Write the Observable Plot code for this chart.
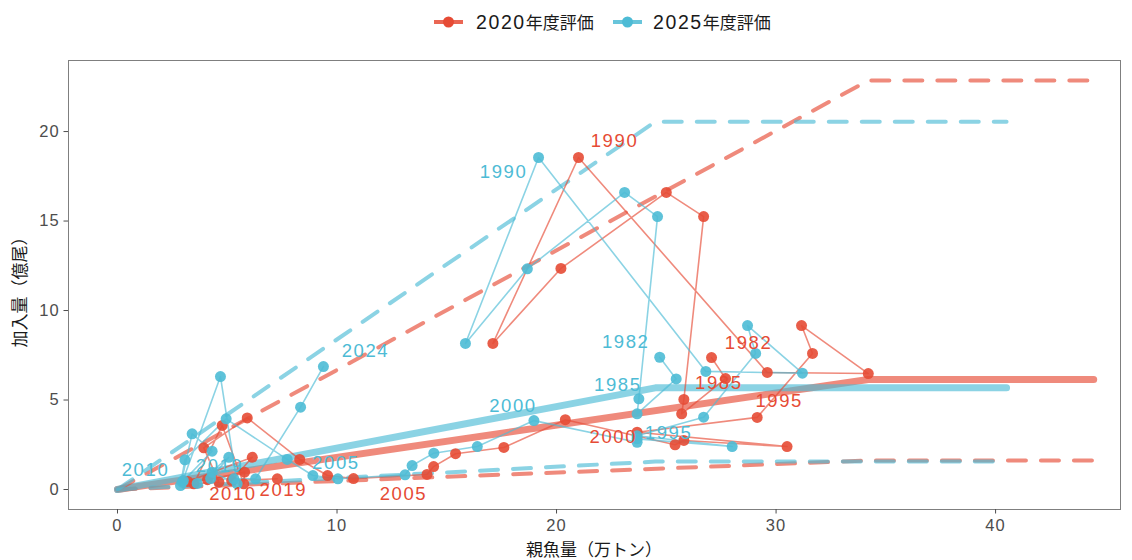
<!DOCTYPE html>
<html><head><meta charset="utf-8">
<script src="https://cdn.jsdelivr.net/npm/d3@7"></script>
<script src="https://cdn.jsdelivr.net/npm/@observablehq/plot@0.6"></script>
<style>
body{margin:0;background:#fff;}
#wrap{position:relative;width:1132px;height:560px;overflow:hidden;font-family:"Liberation Sans","Noto Sans CJK JP",sans-serif;}
#chart{position:absolute;top:48px;left:0;}
#overlay{position:absolute;top:0;left:0;pointer-events:none;}
#chart svg text{font-family:"Liberation Sans","Noto Sans CJK JP",sans-serif;}
#chart g[aria-label="text"] text{letter-spacing:1.6px;}
#chart g[aria-label$="tick label"] text{letter-spacing:1.2px;}
</style></head>
<body>
<div id="wrap">
<div id="chart"></div>
<svg id="overlay" width="1132" height="560"></svg>
</div>
<script>
// ---- data ----
const years2020 = [1982,1983,1984,1985,1986,1987,1988,1989,1990,1991,1992,1993,1994,1995,1996,1997,1998,1999,2000,2001,2002,2003,2004,2005,2006,2007,2008,2009,2010,2011,2012,2013,2014,2015,2016,2017,2018,2019];
const ssb2020 = [27.06,27.7,25.7,25.8,26.7,25.0,20.2,17.1,21.0,29.6,34.2,31.16,31.66,29.14,23.67,30.5,25.8,25.4,20.4,17.6,15.4,14.4,14.1,10.75,9.57,8.3,5.91,3.93,4.62,3.48,4.77,5.75,5.79,4.1,3.2,6.14,5.2,7.28];
const rec2020 = [7.37,6.2,4.23,5.03,15.25,16.6,12.35,8.16,18.55,6.54,6.48,9.16,7.6,4.03,3.2,2.4,2.74,2.5,3.9,2.35,2.0,1.28,0.84,0.61,0.78,1.68,4.0,2.33,0.41,0.32,3.58,0.32,0.97,0.55,0.45,1.8,0.5,0.6];

const years2025 = [1982,1983,1984,1985,1986,1987,1988,1989,1990,1991,1992,1993,1994,1995,1996,1997,1998,1999,2000,2001,2002,2003,2004,2005,2006,2007,2008,2009,2010,2011,2012,2013,2014,2015,2016,2017,2018,2019,2020,2021,2022,2023,2024];
const ssb2025 = [24.7,25.45,23.67,23.75,24.6,23.1,18.67,15.85,19.18,26.8,31.2,28.7,29.07,26.7,23.67,28.0,23.67,23.67,18.97,16.39,14.41,13.42,13.1,10.04,8.9,7.73,4.95,3.07,2.87,3.4,4.31,2.95,4.69,5.45,4.31,3.63,5.07,4.24,3.0,5.3,6.29,8.34,9.38];
const rec2025 = [7.39,6.18,4.23,5.07,15.25,16.6,12.33,8.16,18.55,6.6,6.5,9.16,7.6,4.04,3.0,2.4,2.83,2.64,3.85,2.4,2.03,1.34,0.82,0.6,0.78,1.68,3.95,1.66,0.22,3.11,2.14,0.41,6.31,0.32,0.97,0.34,1.8,0.61,0.5,0.6,0.6,4.6,6.87];

// hockey-stick fit and its lower/upper bands (SSB grid, recruitment)
const hsSsb2020 = [0, 34.2, 44.47];
const hsFit2020 = [0, 6.15, 6.15];
const hsUpper2020 = [0, 22.85, 22.85];
const hsLower2020 = [0, 1.62, 1.62];
const hsSsb2025 = [0, 24.5, 40.5];
const hsFit2025 = [0, 5.68, 5.68];
const hsUpper2025 = [0, 20.55, 20.55];
const hsLower2025 = [0, 1.56, 1.56];

const labelYears2020 = [1982,1985,1990,1995,2000,2005,2010,2019];
const labelYears2025 = [1982,1985,1990,1995,2000,2005,2010,2019,2024];

const seriesNames = ["2020年度評価","2025年度評価"];
const xTicks = [0,10,20,30,40];
const yTicks = [0,5,10,15,20];

// ---- styles ----
const RED = "#E64B35", BLUE = "#4DBBD5";
const labelOffsets2020 = {1982:[37,-15],1985:[35,-16],1990:[36,-16],1995:[22,-16],2000:[48,17],2005:[50,15],2010:[14,12],2019:[6,11]};
const labelOffsets2025 = {1982:[-34,-15],1985:[-21,-14],1990:[-35,15],1995:[-35,16],2000:[-21,-15],2005:[-2,-16],2010:[-35,-15],2019:[9,-13],2024:[42,-15]};

const pts = (ys, xs, rs) => ys.map((yr,i)=>({year:yr, ssb:xs[i], rec:rs[i]}));
const p2020 = pts(years2020, ssb2020, rec2020);
const p2025 = pts(years2025, ssb2025, rec2025);
const curve = (xs, ys) => xs.map((v,i)=>({ssb:v, rec:ys[i]}));

const marks = [
  Plot.frame({stroke:"#7f7f7f", strokeWidth:1}),
  Plot.axisX({ticks:xTicks, tickSize:4.5, tickPadding:5, fontSize:16.5, label:null}),
  Plot.axisY({ticks:yTicks, tickSize:4.5, tickPadding:4, fontSize:16.5, label:null}),
  Plot.line(curve(hsSsb2020, hsFit2020), {x:"ssb", y:"rec", stroke:RED, strokeWidth:7, strokeOpacity:0.65}),
  Plot.line(curve(hsSsb2025, hsFit2025), {x:"ssb", y:"rec", stroke:BLUE, strokeWidth:7, strokeOpacity:0.65}),
  Plot.line(curve(hsSsb2020, hsUpper2020), {x:"ssb", y:"rec", stroke:RED, strokeWidth:4, strokeOpacity:0.65, strokeDasharray:"18,15"}),
  Plot.line(curve(hsSsb2020, hsLower2020), {x:"ssb", y:"rec", stroke:RED, strokeWidth:4, strokeOpacity:0.65, strokeDasharray:"18,15"}),
  Plot.line(curve(hsSsb2025, hsUpper2025), {x:"ssb", y:"rec", stroke:BLUE, strokeWidth:4, strokeOpacity:0.65, strokeDasharray:"18,15"}),
  Plot.line(curve(hsSsb2025, hsLower2025), {x:"ssb", y:"rec", stroke:BLUE, strokeWidth:4, strokeOpacity:0.65, strokeDasharray:"18,15"}),
  Plot.line(p2020, {x:"ssb", y:"rec", stroke:RED, strokeWidth:1.6, strokeOpacity:0.65}),
  Plot.line(p2025, {x:"ssb", y:"rec", stroke:BLUE, strokeWidth:1.6, strokeOpacity:0.65}),
  Plot.dot(p2020, {x:"ssb", y:"rec", r:5.5, fill:RED, fillOpacity:0.9, stroke:null}),
  Plot.dot(p2025, {x:"ssb", y:"rec", r:5.5, fill:BLUE, fillOpacity:0.9, stroke:null})
];
labelYears2020.forEach(yr => {
  const d = p2020.filter(p => p.year === yr);
  const [dx, dy] = labelOffsets2020[yr];
  marks.push(Plot.text(d, {x:"ssb", y:"rec", text:p=>String(p.year), dx, dy, fill:RED, fontSize:18.5}));
});
labelYears2025.forEach(yr => {
  const d = p2025.filter(p => p.year === yr);
  const [dx, dy] = labelOffsets2025[yr];
  marks.push(Plot.text(d, {x:"ssb", y:"rec", text:p=>String(p.year), dx, dy, fill:BLUE, fontSize:18.5}));
});

const chart = Plot.plot({
  width:1132, height:512,
  marginLeft:68, marginRight:12, marginTop:12, marginBottom:51,
  x:{domain:[-2.232, 45.69]},
  y:{domain:[-1.117, 23.97]},
  style:{color:"#4d4d4d", background:"white", overflow:"visible"},
  marks
});
document.getElementById("chart").appendChild(chart);

// ---- legend and axis titles ----
const ov = d3.select("#overlay");
const font = '"Liberation Sans","Noto Sans CJK JP",sans-serif';
const legendItems = [
  {name:seriesNames[0], color:RED, x0:434, tx:476},
  {name:seriesNames[1], color:BLUE, x0:613, tx:653}
];
legendItems.forEach(it => {
  ov.append("line").attr("x1",it.x0).attr("x2",it.x0+29).attr("y1",22).attr("y2",22)
    .attr("stroke",it.color).attr("stroke-width",4).attr("stroke-opacity",0.85);
  ov.append("circle").attr("cx",it.x0+14.5).attr("cy",22).attr("r",5.5).attr("fill",it.color);
  const t = ov.append("text").attr("x",it.tx).attr("y",29).attr("fill","#1a1a1a").style("font-family",font);
  const m = it.name.match(/^(\d+)(.*)$/);
  t.append("tspan").text(m[1]).style("font-size","19.5px").style("letter-spacing","1.6px");
  t.append("tspan").text(m[2]).style("font-size","17px").style("font-family",'"Noto Sans CJK JP",sans-serif');
});
ov.append("text").attr("transform","translate(26,288) rotate(-90)").attr("text-anchor","middle")
  .attr("fill","#1a1a1a").style("font-size","17px").style("font-family",'"Noto Sans CJK JP",sans-serif').text("加入量（億尾）");
ov.append("text").attr("x",594).attr("y",556).attr("text-anchor","middle")
  .attr("fill","#1a1a1a").style("font-size","17px").style("font-family",'"Noto Sans CJK JP",sans-serif').text("親魚量（万トン）");
</script>
</body></html>
